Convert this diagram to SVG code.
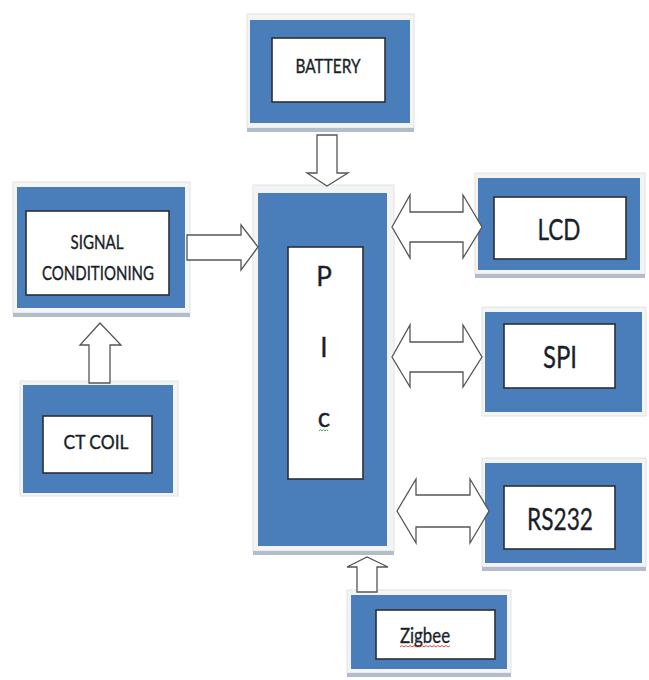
<svg xmlns="http://www.w3.org/2000/svg" width="649" height="680" viewBox="0 0 649 680">
<style>
.frame{fill:#f4f4f4;stroke:#e2e2e2;stroke-width:1}
.shadow{fill:#b3bccb}
.blue{fill:#4a7ebb}
.inner{fill:#ffffff;stroke:#2b2f36;stroke-width:1.6}
.lbl{font-family:Lato,"Open Sans","Liberation Sans",sans-serif;fill:#1a1f29;stroke:#1a1f29;stroke-width:0.35;text-anchor:middle}
.arrow{fill:#ffffff;stroke:#555555;stroke-width:1.3;stroke-linejoin:miter}
</style>
<rect width="649" height="680" fill="#ffffff"/>

<g id="battery">
<rect class="frame" x="247" y="14" width="167" height="114"/>
<rect class="shadow" x="247" y="128" width="167" height="4"/>
<rect class="blue" x="250" y="20" width="160" height="103"/>
<rect class="inner" x="272" y="38" width="113" height="64"/>
<text class="lbl" x="328" y="72.5" font-size="19" textLength="65" lengthAdjust="spacingAndGlyphs">BATTERY</text>
</g>

<g id="signal-conditioning">
<rect class="frame" x="13" y="182" width="177" height="131"/>
<rect class="shadow" x="13" y="313" width="177" height="4"/>
<rect class="blue" x="17" y="187" width="168" height="121"/>
<rect class="inner" x="26" y="211" width="143" height="84"/>
<text class="lbl" x="97" y="249" font-size="19" textLength="53" lengthAdjust="spacingAndGlyphs">SIGNAL</text>
<text class="lbl" x="98" y="280" font-size="19" textLength="112" lengthAdjust="spacingAndGlyphs">CONDITIONING</text>
</g>

<g id="ct-coil">
<rect class="frame" x="20" y="381" width="158" height="115"/>
<rect class="blue" x="23" y="385" width="150" height="108"/>
<rect class="inner" x="43" y="416" width="109" height="57"/>
<text class="lbl" x="96" y="449" font-size="19" textLength="65" lengthAdjust="spacingAndGlyphs">CT COIL</text>
</g>

<g id="pic">
<rect class="frame" x="253" y="185" width="141" height="366"/>
<rect class="shadow" x="253" y="551" width="141" height="4"/>
<rect class="blue" x="258" y="193" width="129" height="353"/>
<rect class="inner" x="288" y="247" width="75" height="232"/>
<text class="lbl" x="324" y="286" font-size="26">P</text>
<text class="lbl" x="324" y="357" font-size="26">I</text>
<text class="lbl" x="324" y="427" font-size="26">c</text>
<polyline points="319,431 320.5,429.5 322,431 323.5,429.5 325,431 326.5,429.5 328,431" fill="none" stroke="#3bb54a" stroke-width="1"/>
</g>

<g id="lcd">
<rect class="frame" x="475" y="173" width="170" height="101"/>
<rect class="shadow" x="475" y="274" width="170" height="4"/>
<rect class="blue" x="478" y="178" width="162" height="92"/>
<rect class="inner" x="494" y="197" width="132" height="62"/>
<text class="lbl" x="559" y="240" font-size="29" textLength="43" lengthAdjust="spacingAndGlyphs">LCD</text>
</g>

<g id="spi">
<rect class="frame" x="482" y="307" width="164" height="109"/>
<rect class="blue" x="485" y="312" width="157" height="100"/>
<rect class="inner" x="504" y="324" width="111" height="64"/>
<text class="lbl" x="560" y="368" font-size="30" textLength="34" lengthAdjust="spacingAndGlyphs">SPI</text>
</g>

<g id="rs232">
<rect class="frame" x="482" y="458" width="164" height="109"/>
<rect class="shadow" x="482" y="567" width="164" height="4"/>
<rect class="blue" x="485" y="463" width="157" height="100"/>
<rect class="inner" x="504" y="486" width="111" height="63"/>
<text class="lbl" x="560" y="530" font-size="31" textLength="66" lengthAdjust="spacingAndGlyphs">RS232</text>
</g>

<g id="zigbee">
<rect class="frame" x="347" y="590" width="164" height="83"/>
<rect class="shadow" x="347" y="673" width="164" height="4"/>
<rect class="blue" x="351" y="595" width="156" height="74"/>
<rect class="inner" x="376" y="610" width="119" height="49"/>
<text class="lbl" x="425" y="643" font-size="21" textLength="50" lengthAdjust="spacingAndGlyphs">Zigbee</text>
<polyline points="400,647 402,645.5 404,647 406,645.5 408,647 410,645.5 412,647 414,645.5 416,647 418,645.5 420,647 422,645.5 424,647 426,645.5 428,647 430,645.5 432,647 434,645.5 436,647 438,645.5 440,647 442,645.5 444,647 446,645.5 448,647 450,645.5" fill="none" stroke="#e03030" stroke-width="0.9"/>
</g>

<g id="connectors">
<polygon class="arrow" points="317,135 337,135 337,173 348,173 327,186 307,173 317,173"/>
<polygon class="arrow" points="187,235 241,235 241,225 258,247 241,270 241,260 187,260"/>
<polygon class="arrow" points="89,383 89,345 80,345 100,323 121,345 110,345 110,383"/>
<polygon class="arrow" points="392,227 410,195 410,212 463,212 463,195 482,227 463,258 463,242 410,242 410,258"/>
<polygon class="arrow" points="392,357 410,325 410,342 463,342 463,325 482,357 463,387 463,372 410,372 410,387"/>
<polygon class="arrow" points="397,511 416,479 416,495 470,495 470,479 489,511 470,543 470,527 416,527 416,543"/>
<polygon class="arrow" points="357,592 357,567 347,567 367,557 388,567 377,567 377,592"/>
</g>
</svg>
